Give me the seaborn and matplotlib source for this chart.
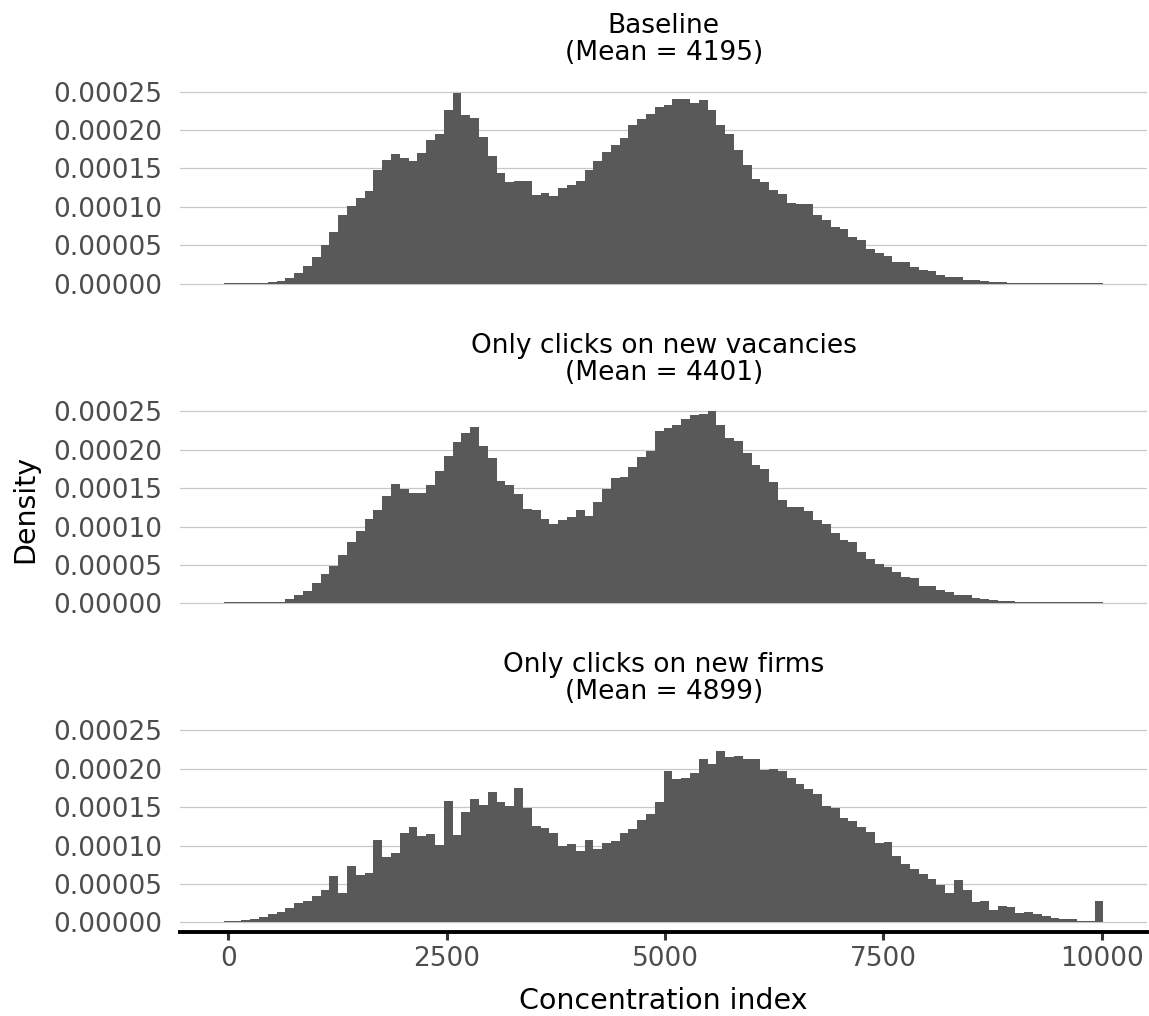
import numpy as np
import pandas as pd
import matplotlib
matplotlib.use("Agg")
import matplotlib.pyplot as plt
import seaborn as sns

# ---------------- data (density, in units of 1e-5) ----------------
N_BINS = 100
BIN_WIDTH = 100.7

baseline_e5 = [
    0.12, 0.12, 0.12, 0.12, 0.15, 0.16, 0.35, 0.74, 1.43, 2.30,
    3.47, 5.03, 6.73, 8.94, 10.11, 11.15, 12.07, 14.80, 16.10, 16.88,
    16.36, 15.97, 17.01, 18.70, 19.49, 22.60, 24.83, 21.96, 21.57, 19.10,
    16.62, 14.41, 13.24, 13.37, 13.37, 11.55, 11.80, 11.41, 12.46, 12.85,
    13.37, 14.80, 15.97, 17.14, 18.06, 18.97, 20.66, 21.44, 22.09, 23.00,
    23.26, 24.05, 24.05, 23.52, 23.91, 22.60, 20.66, 19.49, 17.40, 15.45,
    13.63, 13.24, 12.20, 11.68, 10.50, 10.37, 10.37, 8.94, 8.29, 7.38,
    7.12, 6.08, 5.69, 4.51, 3.99, 3.60, 2.82, 2.82, 2.17, 1.78,
    1.65, 1.13, 0.87, 0.87, 0.48, 0.48, 0.35, 0.22, 0.22, 0.15,
    0.15, 0.15, 0.12, 0.12, 0.12, 0.12, 0.12, 0.12, 0.12, 0.12,
]

vacancies_e5 = [
    0.12, 0.12, 0.12, 0.12, 0.12, 0.12, 0.17, 0.56, 1.09, 1.61,
    2.65, 3.83, 4.87, 6.30, 8.00, 9.43, 11.00, 12.17, 14.00, 15.57,
    14.91, 14.39, 14.39, 15.43, 17.26, 19.22, 21.04, 22.22, 23.00, 20.52,
    18.96, 15.96, 15.43, 14.26, 12.30, 12.17, 11.00, 10.35, 10.87, 11.26,
    12.17, 11.39, 13.22, 14.91, 16.35, 16.48, 17.78, 19.09, 19.87, 22.48,
    22.87, 23.26, 24.04, 24.57, 24.70, 25.09, 23.26, 21.57, 21.17, 19.61,
    18.04, 17.52, 15.83, 13.48, 12.57, 12.57, 12.04, 10.87, 10.35, 9.17,
    8.26, 8.00, 6.70, 5.78, 5.13, 4.74, 4.09, 3.43, 3.30, 2.26,
    2.26, 1.74, 1.48, 1.09, 1.09, 0.70, 0.57, 0.43, 0.30, 0.30,
    0.17, 0.17, 0.12, 0.12, 0.12, 0.12, 0.12, 0.12, 0.12, 0.12,
]

firms_e5 = [
    0.12, 0.12, 0.35, 0.48, 0.74, 1.13, 1.39, 1.91, 2.56, 2.82,
    3.47, 4.25, 6.07, 3.86, 7.37, 6.20, 6.46, 10.75, 8.54, 9.06,
    11.66, 12.44, 11.27, 11.53, 10.10, 15.81, 11.40, 14.38, 16.07, 15.29,
    16.98, 15.68, 15.16, 17.50, 14.90, 12.56, 12.31, 11.66, 9.97, 10.23,
    9.32, 10.75, 9.58, 10.36, 10.62, 11.66, 12.17, 13.34, 14.12, 15.68,
    19.71, 18.67, 18.80, 19.45, 21.27, 20.62, 22.31, 21.53, 21.66, 21.27,
    21.27, 19.84, 19.97, 19.71, 18.80, 18.02, 17.37, 16.72, 15.16, 14.90,
    13.60, 13.21, 12.44, 11.79, 10.36, 10.49, 8.67, 7.63, 6.98, 6.33,
    5.68, 4.90, 3.86, 5.55, 4.25, 2.69, 2.82, 1.65, 2.17, 2.04,
    1.26, 1.39, 1.13, 0.87, 0.61, 0.48, 0.48, 0.12, 0.22, 2.82,
]

panel_titles = ["Baseline", "Only clicks on new vacancies", "Only clicks on new firms"]
panel_means = [4195, 4401, 4899]
y_ticks = [0.0, 0.00005, 0.00010, 0.00015, 0.00020, 0.00025]
x_ticks = [0, 2500, 5000, 7500, 10000]
x_label = "Concentration index"
y_label = "Density"

series = [baseline_e5, vacancies_e5, firms_e5]

# ---------------- figure ----------------
sns.set_theme(style="white")
plt.rcParams["font.family"] = ["DejaVu Sans"]

W, H = 1149, 1016
fig = plt.figure(figsize=(W / 100, H / 100), dpi=100)

left_px, right_px = 180, 1147.4
panel_tops = [82, 401.7, 720.7]
panel_h = 211.3

centers = np.arange(N_BINS) * BIN_WIDTH
bin_lo = -0.5 * BIN_WIDTH
bin_hi = (N_BINS - 0.5) * BIN_WIDTH

tick_color = "#4D4D4D"
axes = []
for i, (vals, title, mean) in enumerate(zip(series, panel_titles, panel_means)):
    top = panel_tops[i]
    ax = fig.add_axes([left_px / W, (H - top - panel_h) / H,
                       (right_px - left_px) / W, panel_h / H])
    axes.append(ax)
    df = pd.DataFrame({"x": centers, "density": np.array(vals) * 1e-5})
    sns.histplot(data=df, x="x", weights="density", binwidth=BIN_WIDTH,
                 binrange=(bin_lo, bin_hi), stat="count",
                 color="#595959", alpha=1, edgecolor="none", linewidth=0,
                 ax=ax, zorder=2)
    ax.set_xlim(-553, 10523)
    ax.set_ylim(-0.0000125, 0.0002625)
    ax.set_yticks(y_ticks)
    ax.set_yticklabels([f"{v:.5f}" for v in y_ticks])
    ax.set_xticks(x_ticks)
    ax.grid(axis="y", color="#c8c8c8", linewidth=0.9, zorder=0)
    ax.grid(axis="x", visible=False)
    ax.set_axisbelow(True)
    for s in ax.spines.values():
        s.set_visible(False)
    ax.set_xlabel("")
    ax.set_ylabel("")
    ax.tick_params(axis="y", length=0, pad=13, labelsize=19, labelcolor=tick_color)
    if i < 2:
        ax.tick_params(axis="x", length=0, labelbottom=False)
    else:
        ax.spines["bottom"].set_visible(True)
        ax.spines["bottom"].set_color("black")
        ax.spines["bottom"].set_linewidth(2.8)
        ax.tick_params(axis="x", length=6, width=2.2, color="#333333", pad=4,
                       labelsize=19, labelcolor=tick_color, bottom=True)
        ax.set_xlabel(x_label, fontsize=20.5, color="black", labelpad=11)
    ax.text(0.5, 1 + 49 / panel_h, title, transform=ax.transAxes,
            ha="center", va="baseline", fontsize=19, color="black")
    ax.text(0.5, 1 + 22 / panel_h, f"(Mean = {mean})", transform=ax.transAxes,
            ha="center", va="baseline", fontsize=19, color="black")

fig.text(25 / W, 1 - 509 / H, y_label, rotation=90, ha="center", va="center",
         fontsize=20.5, color="black")

fig.savefig("out.png", dpi=100, facecolor="white")
